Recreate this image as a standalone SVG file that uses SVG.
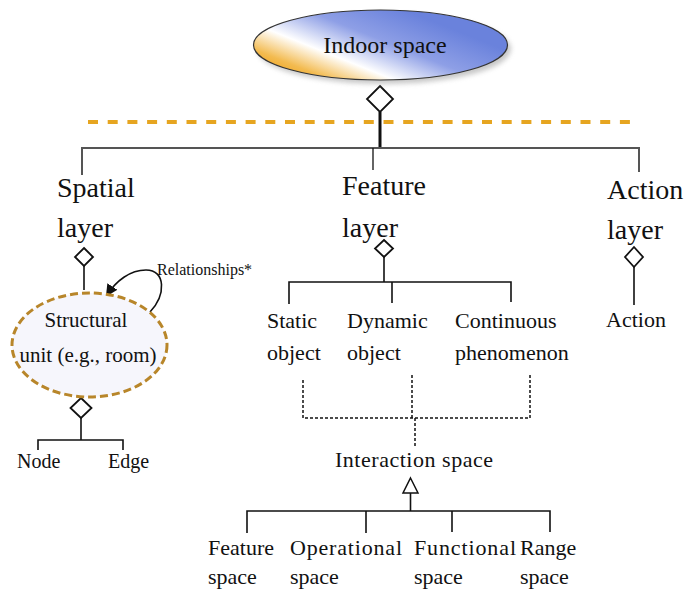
<svg xmlns="http://www.w3.org/2000/svg" width="699" height="596" viewBox="0 0 699 596">
<style>
text{font-family:"Liberation Serif","Times New Roman",Tinos,"Noto Serif","DejaVu Serif",FreeSerif,Georgia,serif;fill:#111}
.big{font-size:28px}
.mid{font-size:22px}
.ln{fill:none;stroke:#111;stroke-width:1.6}
.dia{fill:#fff;stroke:#111;stroke-width:1.8}
.dot{fill:none;stroke:#111;stroke-width:1.5;stroke-dasharray:3 2}
</style>
<defs>
<linearGradient id="g1" gradientUnits="userSpaceOnUse" x1="290" y1="80" x2="330" y2="-20">
<stop offset="0" stop-color="#EFA31E"/>
<stop offset="0.14" stop-color="#F3BB50"/>
<stop offset="0.36" stop-color="#FFFFFF"/>
<stop offset="0.66" stop-color="#8E9FE6"/>
<stop offset="1" stop-color="#6A82DC"/>
</linearGradient>
<filter id="sh" x="-20%" y="-30%" width="140%" height="160%"><feGaussianBlur stdDeviation="2.5"/></filter>
<marker id="ar" markerWidth="12" markerHeight="12" refX="10" refY="6" orient="auto" markerUnits="userSpaceOnUse">
<path d="M0,0 L12,6 L0,12 Z" fill="#111"/>
</marker>
</defs>

<line x1="88" y1="122" x2="632" y2="122" stroke="#E6A520" stroke-width="4" stroke-dasharray="10 9.7"/>

<g id="connectors">
<line class="ln" x1="380" y1="112" x2="380" y2="148" style="stroke-width:3"/>
<polyline class="ln" points="82,175 82,148 639,148 639,172" style="stroke:#555;stroke-width:2"/>
<line class="ln" x1="373" y1="148" x2="373" y2="170" style="stroke-width:1.3"/>
<line class="ln" x1="84" y1="266" x2="84" y2="290"/>
<line class="ln" x1="81" y1="418" x2="81" y2="440"/>
<polyline class="ln" points="38,450 38,440 123,440 123,450"/>
<line class="ln" x1="384" y1="257" x2="384" y2="282"/>
<polyline class="ln" points="289,304 289,282 511,282 511,302"/>
<line class="ln" x1="392" y1="282" x2="392" y2="303"/>
<line class="ln" x1="634" y1="267" x2="634" y2="305"/>
<polyline class="dot" points="303,380 303,418 530,418 530,375"/>
<line class="dot" x1="412" y1="375" x2="412" y2="418"/>
<line class="dot" x1="415" y1="418" x2="415" y2="448"/>
<line class="ln" x1="410.5" y1="493" x2="410.5" y2="511"/>
<polyline class="ln" points="247,533 247,511 550,511 550,532"/>
<line class="ln" x1="366" y1="511" x2="366" y2="533"/>
<line class="ln" x1="452" y1="511" x2="452" y2="532"/>
<path class="ln" d="M150,312 C166,295 166,270 146,270 C130,270 116,281 107,295" marker-end="url(#ar)"/>
<text x="157" y="275" style="font-size:16px">Relationships*</text>
<polygon class="dia" points="380,86 393,99 380,112 367,99"/>
<polygon class="dia" points="84,248 93,257 84,266 75,257"/>
<polygon class="dia" points="81,398 91.5,408 81,418 70.5,408"/>
<polygon class="dia" points="384,240 393,248.5 384,257 375,248.5"/>
<polygon class="dia" points="634,247 643,257 634,267 625,257"/>
<polygon class="dia" points="410.5,478 418,493 403,493" style="stroke-width:1.5"/>
</g>

<g id="indoor-space">
<ellipse cx="384" cy="49" rx="127" ry="35" fill="#9a9a9a" opacity="0.55" filter="url(#sh)"/>
<ellipse cx="380.5" cy="45" rx="127" ry="35" fill="url(#g1)" stroke="#333" stroke-width="1.2"/>
<text x="385" y="53" text-anchor="middle" style="font-size:24px">Indoor space</text>
</g>

<g id="spatial-layer">
<text class="big" x="57" y="197">Spatial</text>
<text class="big" x="57" y="237">layer</text>
</g>
<g id="feature-layer">
<text class="big" x="342" y="195">Feature</text>
<text class="big" x="342" y="237">layer</text>
</g>
<g id="action-layer">
<text class="big" x="607" y="199">Action</text>
<text class="big" x="607" y="239">layer</text>
</g>
<g id="action">
<text class="mid" x="606" y="327">Action</text>
</g>

<g id="structural-unit">
<ellipse cx="89.5" cy="345" rx="77.5" ry="52" fill="#F6F6FC" stroke="#B8862A" stroke-width="3" stroke-dasharray="8 4"/>
<text x="86" y="327" text-anchor="middle" style="font-size:21px">Structural</text>
<text x="88" y="362" text-anchor="middle" style="font-size:21px">unit (e.g., room)</text>
</g>
<g id="node"><text x="17" y="468" style="font-size:20px">Node</text></g>
<g id="edge"><text x="108" y="468" style="font-size:20px">Edge</text></g>

<g id="static-object">
<text class="mid" x="267" y="328">Static</text>
<text class="mid" x="267" y="360">object</text>
</g>
<g id="dynamic-object">
<text class="mid" x="347" y="328">Dynamic</text>
<text class="mid" x="347" y="360">object</text>
</g>
<g id="continuous-phenomenon">
<text class="mid" x="455" y="328">Continuous</text>
<text class="mid" x="455" y="360">phenomenon</text>
</g>
<g id="interaction-space">
<text class="mid" x="335" y="467" textLength="158">Interaction space</text>
</g>

<g id="feature-space">
<text class="mid" x="208" y="555">Feature</text>
<text class="mid" x="208" y="584">space</text>
</g>
<g id="operational-space">
<text class="mid" x="290" y="555" textLength="112">Operational</text>
<text class="mid" x="290" y="584">space</text>
</g>
<g id="functional-space">
<text class="mid" x="414" y="555" textLength="102">Functional</text>
<text class="mid" x="414" y="584">space</text>
</g>
<g id="range-space">
<text class="mid" x="520" y="555">Range</text>
<text class="mid" x="520" y="584">space</text>
</g>
</svg>
